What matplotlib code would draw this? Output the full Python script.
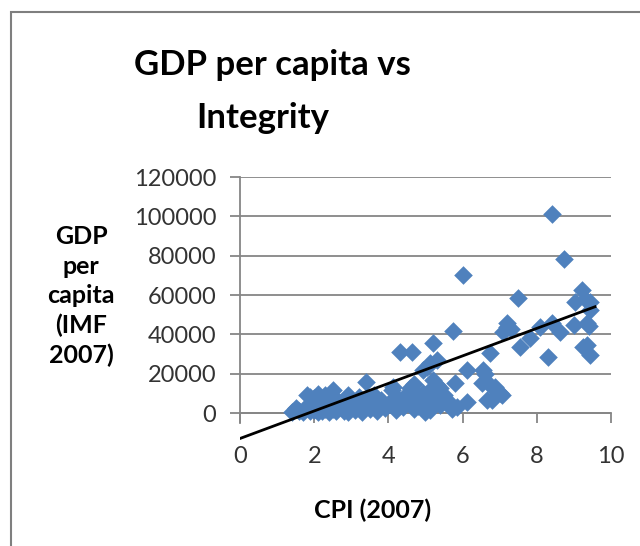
import matplotlib
matplotlib.use("Agg")
import matplotlib.pyplot as plt
from matplotlib.patches import Rectangle

# CPI 2007 score vs GDP per capita (IMF 2007)
cpi = [1.4, 1.5, 1.6, 1.7, 1.8, 1.8, 1.9, 1.9, 2.0, 2.0, 2.0, 2.1, 2.1, 2.1,
       2.2, 2.2, 2.3, 2.3, 2.4, 2.4, 2.5, 2.5, 2.6, 2.6, 2.7, 2.8, 2.8, 2.9,
       2.9, 3.0, 3.0, 3.1, 3.2, 3.2, 3.3, 3.3, 3.4, 3.4, 3.5, 3.5, 3.6, 3.6,
       3.7, 3.8, 3.9, 4.0, 4.1, 4.13, 4.2, 4.2, 4.31, 4.3, 4.4, 4.5, 4.58,
       4.63, 4.6, 4.65, 4.7, 4.7, 4.8, 4.8, 4.94, 4.94, 4.9, 5.0, 5.03, 4.98,
       5.12, 5.1, 5.12, 5.21, 5.21, 5.2, 5.3, 5.3, 5.39, 5.4, 5.48, 5.5, 5.6,
       5.73, 5.71, 5.8, 5.84, 6.0, 6.11, 6.11, 6.51, 6.56, 6.6, 6.65, 6.74,
       6.74, 6.78, 6.87, 7.0, 7.05, 7.1, 7.19, 7.3, 7.2, 7.5, 7.55, 7.82,
       8.09, 8.31, 8.4, 8.4, 8.63, 8.72, 8.99, 9.03, 9.21, 9.25, 9.35, 9.35,
       9.4, 9.43, 9.43, 9.43, 9.3]
gdp = [700, 2500, 1200, 400, 3500, 9200, 8300, 800, 5500, 1500, 7800, 9500,
       600, 3000, 6500, 1000, 9000, 2200, 4500, 500, 11700, 1800, 7000, 800,
       3500, 5500, 1200, 9200, 400, 2500, 6000, 1500, 8000, 4000, 600, 2800,
       15900, 7000, 1800, 5000, 9000, 3500, 800, 6500, 2500, 4500, 11700,
       13400, 8000, 1500, 31200, 6000, 3000, 9500, 12500, 31200, 5000, 11700,
       15000, 2000, 8500, 3500, 21900, 10000, 6000, 3500, 23500, 500, 25300,
       11000, 1500, 35400, 16800, 7500, 27000, 14000, 12500, 4000, 6600, 9000,
       6000, 41700, 1900, 15400, 3200, 70200, 21900, 5700, 15100, 21900,
       20000, 6600, 30700, 14200, 6600, 13400, 10000, 9200, 41400, 45600,
       42500, 43500, 58300, 33700, 38000, 43900, 28600, 45600, 101000, 41400,
       78300, 44700, 56600, 62500, 33700, 45600, 34600, 44000, 56600, 29500,
       52400, 58000]

# linear trendline
trend_slope = 7000
trend_intercept = -12950
trend_x = [-0.18, 9.57]

x_ticks = [0, 2, 4, 6, 8, 10]
y_ticks = [0, 20000, 40000, 60000, 80000, 100000, 120000]

plt.rcParams['font.family'] = ['Lato', 'DejaVu Sans']

fig = plt.figure(figsize=(6.4, 5.46), dpi=100)
ax = fig.add_axes([240 / 640, 1 - 444.5 / 546, 371 / 640, 267.5 / 546])

grey = '#868686'
ax.scatter(cpi, gdp, marker='D', s=90, color='#4F81BD', linewidths=0, zorder=3)
trend_y = [trend_slope * x + trend_intercept for x in trend_x]
ax.plot(trend_x, trend_y, color='black', lw=2, zorder=4)

ax.set_xlim(0, 10)
ax.set_ylim(-16000, 120000)
ax.set_xticks(x_ticks)
ax.set_xticklabels([str(t) for t in x_ticks])
ax.set_yticks(y_ticks)
ax.set_yticklabels([str(t) for t in y_ticks])

ax.spines['top'].set_visible(False)
ax.spines['right'].set_visible(False)
ax.spines['bottom'].set_position(('data', 0))
ax.spines['left'].set_bounds(-5000, 120000)
for s in ('left', 'bottom'):
    ax.spines[s].set_color(grey)
    ax.spines[s].set_linewidth(1.3)

ax.yaxis.grid(True, color=grey, lw=1.3)
ax.set_axisbelow(True)
ax.tick_params(axis='both', direction='out', color=grey, width=1.3,
               length=7, labelsize=17, labelcolor='#333333')
ax.tick_params(axis='x', pad=17)
ax.tick_params(axis='y', pad=10)

fig.text(272 / 640, 1 - 75 / 546, 'GDP per capita vs', ha='center',
         va='baseline', fontsize=25, fontweight='bold')
fig.text(263 / 640, 1 - 128 / 546, 'Integrity', ha='center',
         va='baseline', fontsize=25, fontweight='bold')
fig.text(81 / 640, 1 - 296 / 546, 'GDP\nper\ncapita\n(IMF\n2007)',
         ha='center', va='center', multialignment='center', fontsize=18,
         fontweight='bold', linespacing=1.33)
fig.text(373 / 640, 1 - 510 / 546, 'CPI (2007)', ha='center', va='center',
         fontsize=18, fontweight='bold')

# chart border (cut off on the right and bottom)
fig.patches.append(Rectangle((11 / 640, -0.1), 1.2, 1 - 12 / 546 + 0.1,
                             transform=fig.transFigure, fill=False,
                             edgecolor='#7f7f7f', lw=1.5))

fig.savefig('out.png', dpi=100)
